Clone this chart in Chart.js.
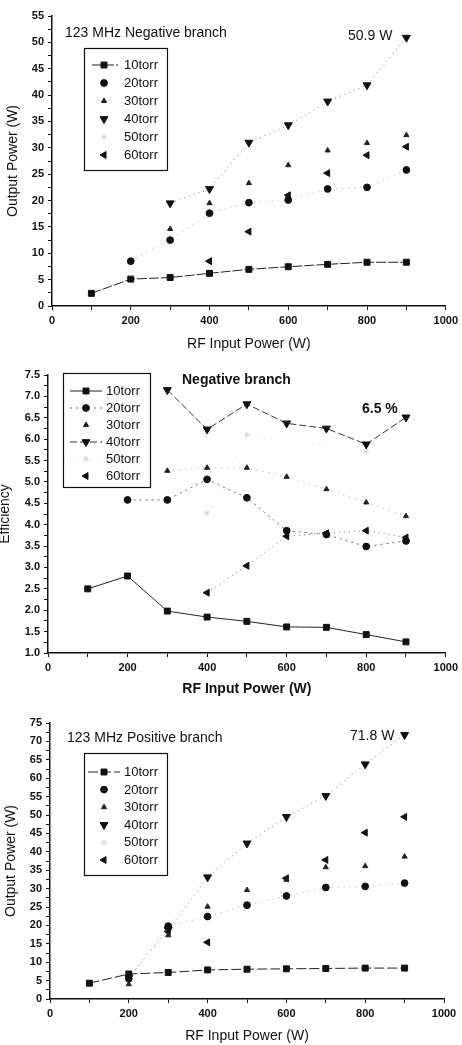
<!DOCTYPE html>
<html><head><meta charset="utf-8">
<script src="https://cdn.jsdelivr.net/npm/chart.js@4/dist/chart.umd.min.js"></script>
<style>
html,body{margin:0;padding:0;background:#fff;width:462px;height:1045px;overflow:hidden}
canvas{position:absolute;left:0;display:block}
</style></head><body>
<canvas id="c1" width="462" height="354" style="top:0px"></canvas>
<canvas id="c2" width="462" height="345" style="top:354px"></canvas>
<canvas id="c3" width="462" height="346" style="top:699px"></canvas>
<script>
// ---------- data ----------
const power = [100, 200, 300, 400, 500, 600, 700, 800, 900];
const seriesNames = ['10torr', '20torr', '30torr', '40torr', '50torr', '60torr'];

// Chart 1: 123 MHz negative branch, output power (W)
const neg10 = [2.4, 5.1, 5.4, 6.2, 6.95, 7.45, 7.9, 8.3, 8.3];
const neg20 = [null, 8.5, 12.5, 17.6, 19.6, 20.1, 22.2, 22.5, 25.8];
const neg30 = [null, null, 14.6, 19.5, 23.3, 26.7, 29.5, 30.9, 32.4];
const neg40 = [null, null, 19.5, 22.2, 31.0, 34.3, 38.8, 41.9, 50.9];
const neg50 = [null, null, null, null, null, null, null, null, null];
const neg60 = [null, null, null, 8.5, 14.1, 21.0, 25.2, 28.6, 30.2];

// Chart 2: negative branch efficiency (%)
const eff10 = [2.5, 2.8, 1.98, 1.84, 1.74, 1.61, 1.6, 1.43, 1.26];
const eff20 = [null, 4.58, 4.58, 5.06, 4.63, 3.86, 3.77, 3.49, 3.62];
const eff30 = [null, null, 5.26, 5.33, 5.33, 5.12, 4.83, 4.52, 4.2];
const eff40 = [null, null, 7.15, 6.23, 6.82, 6.37, 6.25, 5.88, 6.51];
const eff50 = [null, null, null, 4.27, 6.1, null, null, 5.72, null];
const eff60 = [null, null, null, 2.41, 3.04, 3.73, 3.8, 3.86, 3.7];

// Chart 3: 123 MHz positive branch, output power (W)
const pos10 = [4.3, 6.8, 7.2, 7.9, 8.1, 8.2, 8.3, 8.4, 8.4];
const pos20 = [null, 5.5, 19.8, 22.4, 25.5, 28.0, 30.3, 30.6, 31.5];
const pos30 = [null, 4.0, 17.3, 25.1, 29.6, 32.4, 35.8, 36.1, 38.7];
const pos40 = [null, 5.8, 18.8, 33.1, 42.3, 49.5, 55.2, 63.8, 71.8];
const pos50 = [null, null, null, null, null, null, null, null, null];
const pos60 = [null, null, 18.3, 15.4, null, 32.8, 37.8, 45.2, 49.5];

// tick label settings
const xTickStep = 100, xLabelEvery = 200;

// ---------- styles ----------
const FONT = '"Liberation Sans", Arial, sans-serif';
const markers = [
  {style: 'rect', r: 4.2, rot: 0, color: '#111'},
  {style: 'circle', r: 3.4, rot: 0, color: '#111'},
  {style: 'triangle', r: 3.0, rot: 0, color: '#222'},
  {style: 'triangle', r: 4.6, rot: 180, color: '#111'},
  {style: 'star', r: 3.0, rot: 0, color: '#d4d4d4'},
  {style: 'triangle', r: 4.0, rot: 270, color: '#111'}
];

function buildDatasets(arrs, lines) {
  return arrs.map((arr, i) => {
    const m = markers[i], ln = lines[i];
    return {
      label: seriesNames[i],
      data: power.map((p, k) => ({x: p, y: arr[k]})),
      pointStyle: m.style, pointRadius: m.r, pointRotation: m.rot,
      pointBackgroundColor: m.color, pointBorderColor: m.color, pointBorderWidth: 1,
      showLine: !!ln, spanGaps: true,
      borderColor: ln ? ln.color : 'transparent', borderWidth: ln ? ln.w : 0,
      borderDash: ln ? ln.dash : [], tension: 0,
      legendLine: ln ? ln.legend !== false : false
    };
  });
}

function drawMarker(ctx, m, x, y) {
  if (Chart.helpers && Chart.helpers.drawPoint) {
    ctx.save();
    ctx.fillStyle = m.color; ctx.strokeStyle = m.color; ctx.lineWidth = 1;
    Chart.helpers.drawPoint(ctx, {pointStyle: m.style, radius: m.r, rotation: m.rot, borderWidth: 1}, x, y);
    ctx.restore();
  }
}

const legendPlugin = {
  id: 'boxLegend',
  afterDraw(chart, args, opts) {
    const ctx = chart.ctx;
    ctx.save();
    ctx.strokeStyle = '#111'; ctx.lineWidth = 1.2; ctx.setLineDash([]);
    ctx.strokeRect(opts.x, opts.y, opts.w, opts.h);
    ctx.font = opts.font; ctx.fillStyle = '#111'; ctx.textBaseline = 'middle'; ctx.textAlign = 'left';
    chart.data.datasets.forEach((ds, i) => {
      const y = opts.y0 + i * opts.dy;
      if (ds.legendLine) {
        ctx.save();
        ctx.strokeStyle = ds.borderColor; ctx.lineWidth = ds.borderWidth; ctx.setLineDash(ds.borderDash || []);
        ctx.beginPath(); ctx.moveTo(opts.lx0, y); ctx.lineTo(opts.lx1, y); ctx.stroke();
        ctx.restore();
      }
      drawMarker(ctx, markers[i], opts.mx, y);
      ctx.fillStyle = '#111';
      ctx.fillText(ds.label, opts.tx, y + 0.5);
    });
    ctx.restore();
  }
};

const notesPlugin = {
  id: 'notes',
  afterDraw(chart, args, opts) {
    const ctx = chart.ctx;
    ctx.save();
    ctx.fillStyle = '#111'; ctx.textBaseline = 'middle';
    (opts.items || []).forEach(it => {
      ctx.font = it.font; ctx.textAlign = it.align || 'left';
      ctx.fillText(it.text, it.x, it.y);
    });
    ctx.restore();
  }
};

function axisBase(extra) {
  return Object.assign({
    type: 'linear',
    border: {display: true, color: '#111', width: 1.5},
    grid: {display: true, drawOnChartArea: false, drawTicks: true, tickLength: 4, color: '#111', tickColor: '#111', tickWidth: 1}
  }, extra);
}

function makeChart(id, cfg) {
  return new Chart(document.getElementById(id), {
    type: 'scatter',
    data: {datasets: buildDatasets(cfg.arrs, cfg.lines)},
    plugins: [legendPlugin, notesPlugin],
    options: {
      responsive: false, animation: false, devicePixelRatio: 1,
      layout: {padding: {left: 0, right: cfg.right, top: cfg.top, bottom: 0}},
      plugins: {legend: {display: false}, tooltip: {enabled: false},
        boxLegend: cfg.legend, notes: {items: cfg.notes}},
      scales: {
        x: axisBase({
          position: 'bottom', min: 0, max: 1000,
          afterFit: s => { s.height = cfg.xh; },
          ticks: {stepSize: xTickStep, autoSkip: false, maxRotation: 0, padding: 4, color: '#111',
            font: {family: FONT, size: 11, weight: 'bold'},
            callback: v => (v % xLabelEvery === 0 ? String(v) : '')},
          title: {display: true, text: 'RF Input Power (W)', color: '#111',
            font: {family: FONT, size: 14, weight: cfg.xBold ? 'bold' : 'normal'},
            padding: {top: 0, bottom: cfg.xtPad}}
        }),
        y: axisBase({
          position: 'left', min: cfg.ymin, max: cfg.ymax,
          afterFit: s => { s.width = cfg.yw; },
          ticks: {stepSize: cfg.ystep / 2, autoSkip: false, padding: 4, color: '#111',
            font: {family: FONT, size: 11, weight: 'bold'},
            callback: v => {
              const q = v / cfg.ystep;
              return Math.abs(q - Math.round(q)) < 1e-6 ? (cfg.ydec ? v.toFixed(cfg.ydec) : String(Math.round(v))) : '';
            }},
          title: {display: true, text: cfg.ytitle, color: '#111',
            font: {family: FONT, size: 14},
            padding: {top: cfg.ytPad, bottom: 0}}
        })
      }
    }
  });
}

const solidDark = {color: '#222', w: 1, dash: []};
const dotted = {color: '#777', w: 1, dash: [1, 4]};
const dottedFaint = {color: '#aaa', w: 1, dash: [1, 5]};

makeChart('c1', {
  arrs: [neg10, neg20, neg30, neg40, neg50, neg60],
  lines: [{color: '#222', w: 1, dash: [10, 2]}, Object.assign({legend: false}, dottedFaint), null, Object.assign({legend: false}, dotted), null, null],
  top: 16, right: 15, xh: 48, yw: 52, ymin: 0, ymax: 55, ystep: 5, ydec: 0,
  ytitle: 'Output Power (W)', ytPad: 5, xtPad: 1, xBold: false,
  legend: {x: 84.5, y: 48.5, w: 83, h: 122, y0: 65, dy: 18, mx: 104, lx0: 92, lx1: 118, tx: 124, font: '13px ' + FONT},
  notes: [
    {text: '123 MHz Negative branch', x: 65, y: 33, font: '14px ' + FONT},
    {text: '50.9 W', x: 348, y: 36, font: '14px ' + FONT}
  ]
});

makeChart('c2', {
  arrs: [eff10, eff20, eff30, eff40, eff50, eff60],
  lines: [solidDark, {color: '#666', w: 1, dash: [2, 4]}, Object.assign({legend: false}, dottedFaint), {color: '#333', w: 1, dash: [7, 3]}, {color: '#e2e2e2', w: 1, dash: [1, 6]}, Object.assign({legend: false}, dotted)],
  top: 21, right: 16, xh: 46, yw: 48, ymin: 1, ymax: 7.5, ystep: 0.5, ydec: 1,
  ytitle: 'Efficiency', ytPad: -3, xtPad: 1, xBold: true,
  legend: {x: 63.5, y: 19.5, w: 87, h: 114, y0: 37, dy: 17, mx: 86, lx0: 70, lx1: 102, tx: 106, font: '13px ' + FONT},
  notes: [
    {text: 'Negative branch', x: 182, y: 26, font: 'bold 14px ' + FONT},
    {text: '6.5 %', x: 362, y: 55, font: 'bold 14px ' + FONT}
  ]
});

makeChart('c3', {
  arrs: [pos10, pos20, pos30, pos40, pos50, pos60],
  lines: [{color: '#222', w: 1, dash: [10, 3]}, Object.assign({legend: false}, dottedFaint), null, Object.assign({legend: false}, dotted), null, null],
  top: 24, right: 18, xh: 46, yw: 50, ymin: 0, ymax: 75, ystep: 5, ydec: 0,
  ytitle: 'Output Power (W)', ytPad: 3, xtPad: 0, xBold: false,
  legend: {x: 84.5, y: 54.5, w: 83, h: 122, y0: 73, dy: 17.6, mx: 104, lx0: 88, lx1: 120, tx: 124, font: '13px ' + FONT},
  notes: [
    {text: '123 MHz Positive branch', x: 67, y: 39, font: '14px ' + FONT},
    {text: '71.8 W', x: 350, y: 37, font: '14px ' + FONT}
  ]
});
</script>
</body></html>
